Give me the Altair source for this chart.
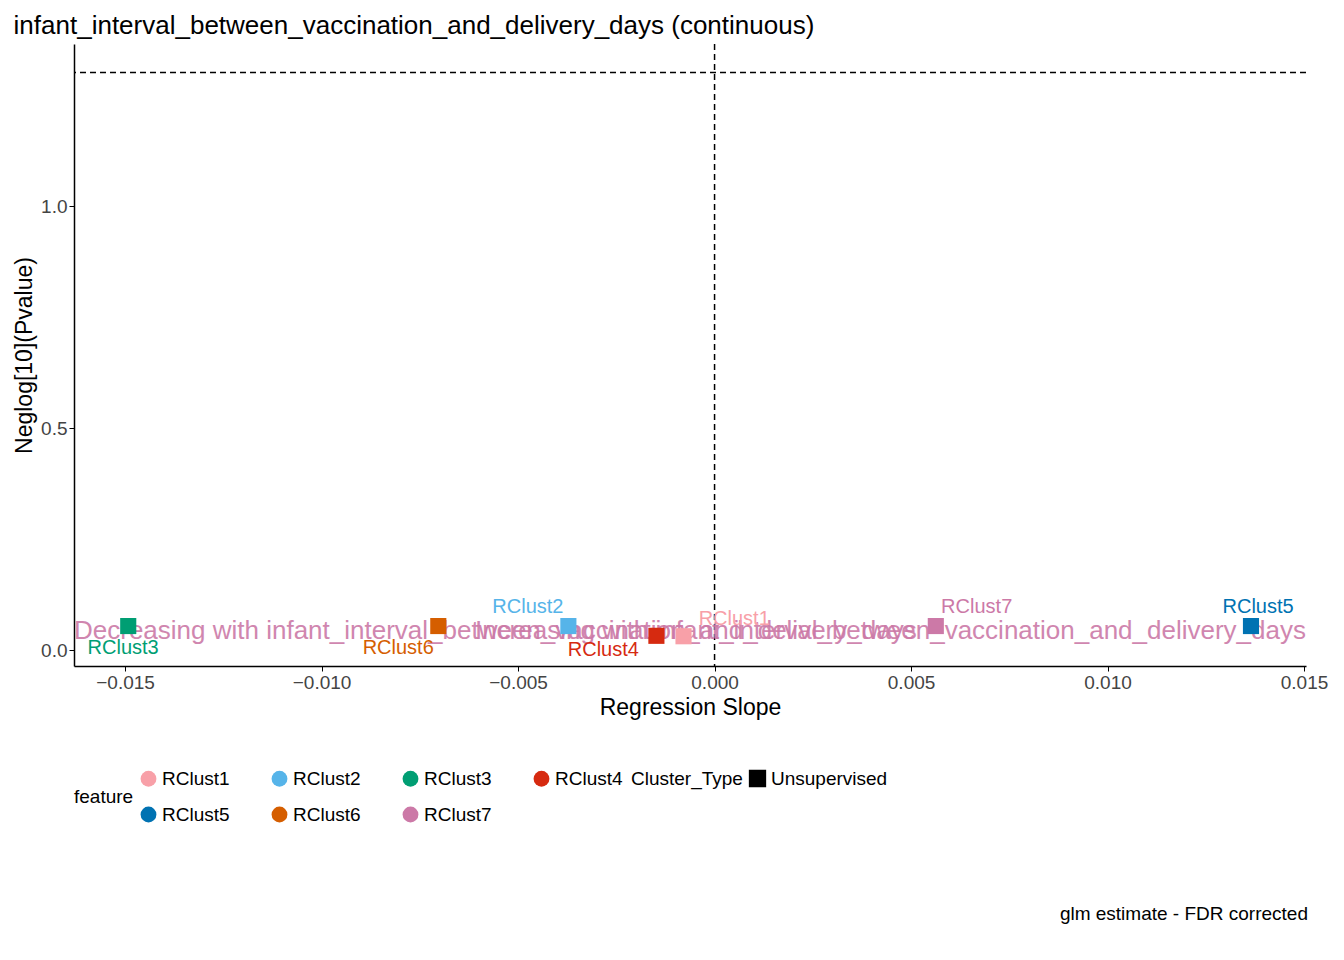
import altair as alt
import pandas as pd

features = ["RClust1","RClust2","RClust3","RClust4","RClust5","RClust6","RClust7"]
slopes = [-0.00079,-0.00372,-0.01492,-0.00148,0.01365,-0.00703,0.00563]
neglogp = [0.031,0.054,0.054,0.032,0.054,0.054,0.054]
label_x = [0.00050,-0.00475,-0.01505,-0.00283,0.01383,-0.00805,0.00667]
label_y = [0.070,0.097,0.004,0.000,0.097,0.004,0.097]
colors = ["#F8A0A8","#56B4E9","#009E73","#D62A10","#0072B2","#D55E00","#CC79A7"]
cluster_type = ["Unsupervised"]*7

df = pd.DataFrame({"feature":features,"slope":slopes,"p":neglogp,"lx":label_x,"ly":label_y,"Cluster_Type":cluster_type})
ann = pd.DataFrame({"txt":["Decreasing with infant_interval_between_vaccination_and_delivery_days",
                           "Increasing with infant_interval_between_vaccination_and_delivery_days"],
                    "x":[-0.0163,0.01505],"y":[0.043,0.043],"al":["left","right"]})

W,H=1232,622
xs = alt.Scale(domain=[-0.0163,0.01505],nice=False,zero=False)
ys = alt.Scale(domain=[-0.036,1.365],nice=False,zero=False)
cs = alt.Scale(domain=features,range=colors)
F="Liberation Sans"

base = alt.Chart(df)
pts = base.mark_point(filled=True,size=260,opacity=1).encode(
    x=alt.X("slope:Q",scale=xs,title="Regression Slope",
            axis=alt.Axis(values=[-0.015,-0.01,-0.005,0,0.005,0.01,0.015],format=".3f")),
    y=alt.Y("p:Q",scale=ys,title="Neglog[10](Pvalue)",axis=alt.Axis(values=[0,0.5,1.0],format=".1f")),
    color=alt.Color("feature:N",scale=cs,legend=alt.Legend(symbolType="circle",columns=4,titleOrient="left",
                    symbolSize=250,columnPadding=40,rowPadding=16,labelFontSize=19,titleFontSize=19,titleFontWeight="normal",offset=50)),
    shape=alt.Shape("Cluster_Type:N",scale=alt.Scale(range=["square"]),
                    legend=alt.Legend(titleOrient="left",symbolFillColor="black",symbolStrokeColor="black",symbolSize=250,
                                      labelFontSize=19,titleFontSize=19,titleFontWeight="normal",offset=50)))
labels = base.mark_text(fontSize=20,font=F).encode(
    x=alt.X("lx:Q",scale=xs),y=alt.Y("ly:Q",scale=ys),text="feature:N",
    color=alt.Color("feature:N",scale=cs,legend=None))
txt = alt.Chart(ann).transform_filter("datum.al=='left'").mark_text(align="left",fontSize=26,font=F,color="#CC79A7",opacity=0.9).encode(
    x=alt.X("x:Q",scale=xs),y=alt.Y("y:Q",scale=ys),text="txt:N")
txt2 = alt.Chart(ann).transform_filter("datum.al=='right'").mark_text(align="right",fontSize=26,font=F,color="#CC79A7",opacity=0.9).encode(
    x=alt.X("x:Q",scale=xs),y=alt.Y("y:Q",scale=ys),text="txt:N")
hl = alt.Chart(pd.DataFrame({"y":[1.301]})).mark_rule(strokeDash=[6,4],color="black",strokeWidth=1.5).encode(y=alt.Y("y:Q",scale=ys))
vl = alt.Chart(pd.DataFrame({"x":[0.0]})).mark_rule(strokeDash=[6,4],color="black",strokeWidth=1.5).encode(x=alt.X("x:Q",scale=xs))
cap = alt.Chart(pd.DataFrame({"t":["glm estimate - FDR corrected"]})).mark_text(align="right",fontSize=19,font=F,color="black").encode(
    x=alt.value(W+2),y=alt.value(H+248),text="t:N")

chart = alt.layer(hl,vl,txt,txt2,pts,labels,cap).resolve_scale(color="shared").properties(
    width=W,height=H,
    title=alt.Title("infant_interval_between_vaccination_and_delivery_days (continuous)",fontSize=26,font=F,fontWeight="normal",anchor="start",color="black")
).configure_view(stroke=None).configure_axis(
    grid=False,domainColor="black",domainWidth=1.5,tickColor="black",labelFontSize=19,titleFontSize=23,
    titleFontWeight="normal",labelFont=F,titleFont=F,labelColor="#444",titleColor="black"
).configure_legend(orient="bottom",direction="horizontal",labelFont=F,titleFont=F,labelColor="black",titleColor="black")

chart.save("out.html", embed_options={"renderer": "svg", "actions": False})
